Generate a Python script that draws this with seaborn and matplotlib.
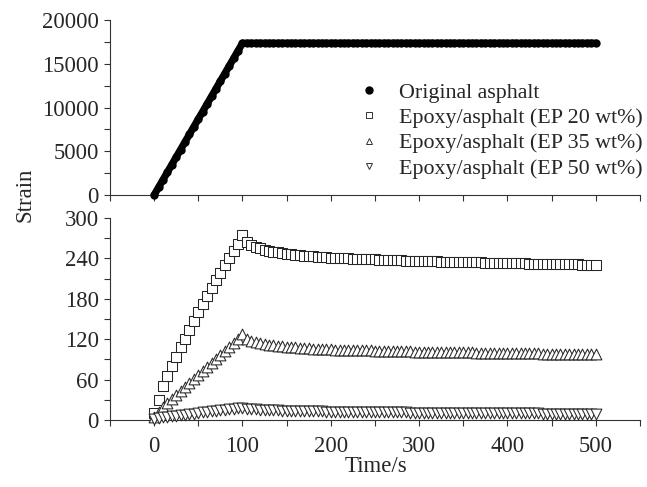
import numpy as np
import pandas as pd
import matplotlib
matplotlib.use("Agg")
import matplotlib.pyplot as plt
from matplotlib.ticker import MultipleLocator
from matplotlib.lines import Line2D
import seaborn as sns

# ---- data ----
time_s = np.arange(0, 505, 5)

original = [0, 870, 1740, 2600, 3470, 4340, 5200, 6070, 6940, 7810,
            8680, 9540, 10410, 11280, 12150, 13020, 13880, 14750, 15620, 16490,
            17350,
            17350, 17350, 17350, 17350, 17350, 17350, 17350, 17350, 17350, 17350,
            17350, 17350, 17350, 17350, 17350, 17350, 17350, 17350, 17350, 17350,
            17350, 17350, 17350, 17350, 17350, 17350, 17350, 17350, 17350, 17350,
            17350, 17350, 17350, 17350, 17350, 17350, 17350, 17350, 17350, 17350,
            17350, 17350, 17350, 17350, 17350, 17350, 17350, 17350, 17350, 17350,
            17350, 17350, 17350, 17350, 17350, 17350, 17350, 17350, 17350, 17350,
            17350, 17350, 17350, 17350, 17350, 17350, 17350, 17350, 17350, 17350,
            17350, 17350, 17350, 17350, 17350, 17350, 17350, 17350, 17350, 17350]

ep20 = [10, 30, 50, 65, 80, 94, 108, 121, 134, 147,
        160, 172, 184, 196, 208, 219, 230, 241, 251, 262,
        274,
        264, 260, 257, 255, 253, 251, 250, 249, 248, 247,
        246, 245, 244.5, 244, 243.5, 243, 242.5, 242, 241.5, 241,
        240.8, 240.5, 240.3, 240.0, 239.8, 239.5, 239.3, 239.0, 238.8, 238.5,
        238.3, 238.0, 237.8, 237.5, 237.3, 237.0, 236.8, 236.5, 236.3, 236.0,
        235.8, 235.7, 235.5, 235.4, 235.2, 235.1, 234.9, 234.8, 234.6, 234.5,
        234.3, 234.2, 234.0, 233.9, 233.7, 233.6, 233.4, 233.3, 233.1, 233.0,
        232.9, 232.8, 232.6, 232.5, 232.4, 232.3, 232.1, 232.0, 231.9, 231.8,
        231.6, 231.5, 231.4, 231.3, 231.1, 231.0, 230.9, 230.8, 230.6, 230.5]

ep35 = [5, 12, 19, 25, 31, 37, 43, 49, 55, 61,
        67, 73, 79, 85, 91, 97, 103, 109, 115, 121,
        127,
        121, 118, 116, 114.5, 113, 112, 111, 110.2, 109.5, 108.8,
        108.2, 107.7, 107.2, 106.8, 106.4, 106.0, 105.7, 105.4, 105.1, 104.8,
        104.6, 104.4, 104.3, 104.1, 103.9, 103.8, 103.6, 103.4, 103.3, 103.1,
        102.9, 102.8, 102.6, 102.4, 102.3, 102.1, 101.9, 101.8, 101.6, 101.5,
        101.4, 101.3, 101.2, 101.1, 101.0, 100.9, 100.8, 100.7, 100.6, 100.5,
        100.4, 100.3, 100.2, 100.1, 100.0, 99.9, 99.8, 99.7, 99.6, 99.5,
        99.4, 99.3, 99.2, 99.1, 99.0, 98.9, 98.8, 98.7, 98.6, 98.5,
        98.4, 98.3, 98.2, 98.1, 98.0, 97.9, 97.8, 97.7, 97.6, 97.5]

ep50 = [2, 3, 4, 4.8, 5.6, 6.4, 7.2, 8.0, 8.8, 9.6,
        10.4, 11.2, 12.0, 12.8, 13.6, 14.4, 15.2, 16.0, 16.8, 17.5,
        18.3,
        17.0, 16.3, 15.8, 15.4, 15.0, 14.7, 14.4, 14.1, 13.9, 13.7,
        13.5, 13.4, 13.2, 13.1, 13.0, 12.9, 12.8, 12.7, 12.6, 12.5,
        12.4, 12.3, 12.3, 12.2, 12.1, 12.0, 12.0, 11.9, 11.8, 11.7,
        11.7, 11.6, 11.5, 11.4, 11.4, 11.3, 11.2, 11.1, 11.1, 11.0,
        10.95, 10.9, 10.85, 10.8, 10.75, 10.7, 10.65, 10.6, 10.55, 10.5,
        10.45, 10.4, 10.35, 10.3, 10.25, 10.2, 10.15, 10.1, 10.05, 10.0,
        9.95, 9.9, 9.85, 9.8, 9.75, 9.7, 9.65, 9.6, 9.55, 9.5,
        9.45, 9.4, 9.35, 9.3, 9.25, 9.2, 9.15, 9.1, 9.05, 9.0]

labels = ["Original asphalt", "Epoxy/asphalt (EP 20 wt%)",
          "Epoxy/asphalt (EP 35 wt%)", "Epoxy/asphalt (EP 50 wt%)"]

# ---- style ----
sns.set_theme(style="ticks")
plt.rcParams["font.family"] = ["Liberation Serif", "DejaVu Serif"]
FS_TICK = 16.3
FS_LEG = 15.8
FS_LAB = 16.5

fig = plt.figure(figsize=(6.47, 4.87), dpi=100)
ax_top = fig.add_axes([0.170, 0.5996, 0.819, 0.3593])
ax_bot = fig.add_axes([0.170, 0.1376, 0.819, 0.4148])

df_top = pd.DataFrame({"t": time_s, "v": original})
sns.lineplot(data=df_top, x="t", y="v", ax=ax_top, color="black", lw=5.2,
             legend=False, zorder=2)
sns.scatterplot(data=df_top, x="t", y="v", ax=ax_top, color="black",
                marker="o", s=36, edgecolor="black", linewidth=0,
                legend=False, zorder=3, clip_on=False)

series = [(ep20, "s", 42), (ep35, "^", 60), (ep50, "v", 60)]
for vals, mk, sz in series:
    d = pd.DataFrame({"t": time_s, "v": vals})
    sns.scatterplot(data=d, x="t", y="v", ax=ax_bot, marker=mk, s=sz,
                    facecolor="white", edgecolor="#262626", linewidth=0.75,
                    legend=False, zorder=3, clip_on=False)

for ax in (ax_top, ax_bot):
    ax.set_xlim(-50, 550)
    ax.xaxis.set_major_locator(MultipleLocator(100))
    ax.xaxis.set_minor_locator(MultipleLocator(50))
    sns.despine(ax=ax, top=True, right=True)
    for sp in ("left", "bottom"):
        ax.spines[sp].set_linewidth(0.8)
        ax.spines[sp].set_color("#333333")
    ax.tick_params(which="both", direction="out", length=4, width=0.8,
                   color="#333333", labelsize=FS_TICK, pad=4)
    ax.tick_params(axis="x", pad=7.5)
    ax.set_xlabel("")
    ax.set_ylabel("")

ax_top.set_ylim(0, 20000)
ax_top.yaxis.set_major_locator(MultipleLocator(5000))
ax_top.yaxis.set_minor_locator(MultipleLocator(2500))
ax_top.tick_params(axis="x", labelbottom=False)

ax_bot.set_ylim(0, 300)
ax_bot.yaxis.set_major_locator(MultipleLocator(60))
ax_bot.yaxis.set_minor_locator(MultipleLocator(30))

# legend
handles = [
    Line2D([], [], ls="", marker="o", color="black", markersize=5),
    Line2D([], [], ls="", marker="s", mfc="white", mec="#333333", markersize=4.5, mew=0.7),
    Line2D([], [], ls="", marker="^", mfc="white", mec="#333333", markersize=5, mew=0.7),
    Line2D([], [], ls="", marker="v", mfc="white", mec="#333333", markersize=5, mew=0.7),
]
ax_top.legend(handles, labels, loc="upper left", bbox_to_anchor=(0.553, 0.831),
              bbox_transform=fig.transFigure, frameon=False, fontsize=FS_LEG,
              borderpad=0, handlelength=1.0, handletextpad=0.9,
              labelspacing=0.23, borderaxespad=0)

fig.text(25 / 647, 1 - 195 / 487, "Strain", rotation=90, ha="center",
         va="center", fontsize=FS_LAB)
fig.text(376 / 647, 1 - 466 / 487, "Time/s", ha="center", va="center",
         fontsize=FS_LAB)

fig.savefig("out.png", dpi=100)
